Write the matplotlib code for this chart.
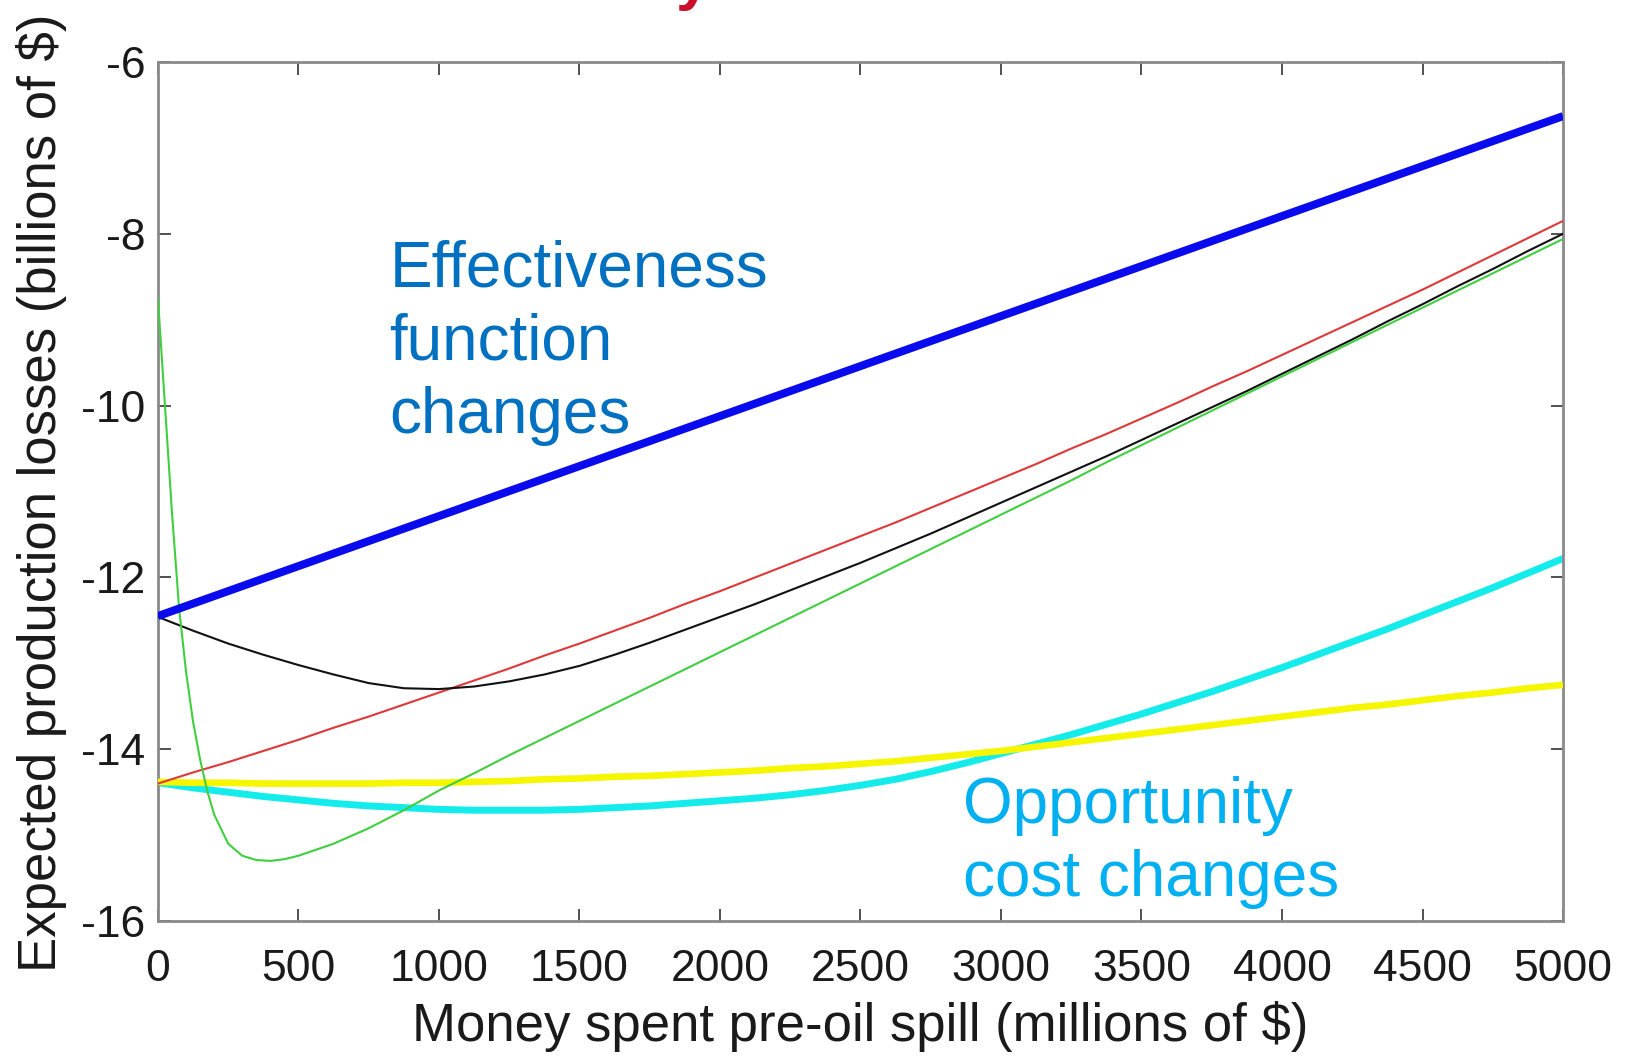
import numpy as np
import matplotlib
matplotlib.use("Agg")
import matplotlib.pyplot as plt
from matplotlib.ticker import FuncFormatter

plt.rcParams['font.family'] = ['Liberation Sans', 'DejaVu Sans']
plt.rcParams['axes.unicode_minus'] = False

# money spent (millions $), every 125
x_main = [0, 125, 250, 375, 500, 625, 750, 875, 1000, 1125, 1250, 1375, 1500,
          1625, 1750, 1875, 2000, 2125, 2250, 2375, 2500, 2625, 2750, 2875,
          3000, 3125, 3250, 3375, 3500, 3625, 3750, 3875, 4000, 4125, 4250,
          4375, 4500, 4625, 4750, 4875, 5000]
# green drops steeply near zero, so it gets extra points there
x_green = [0, 25, 50, 75, 100, 125, 150, 175, 200, 250, 300, 350, 400, 450, 500,
           625, 750, 875, 1000, 1125, 1250, 1375, 1500, 1625, 1750, 1875, 2000,
           2125, 2250, 2375, 2500, 2625, 2750, 2875, 3000, 3125, 3250, 3375, 3500,
           3625, 3750, 3875, 4000, 4125, 4250, 4375, 4500, 4625, 4750, 4875, 5000]
x_ends = [0, 5000]

# expected production losses (billions $)
loss_blue = [-12.45, -6.63]
loss_red = [-14.40, -14.27, -14.15, -14.02, -13.89, -13.75, -13.62, -13.48, -13.34,
            -13.20, -13.06, -12.91, -12.77, -12.62, -12.47, -12.31, -12.16, -12.00,
            -11.84, -11.68, -11.52, -11.36, -11.19, -11.02, -10.85, -10.68, -10.50,
            -10.33, -10.15, -9.97, -9.78, -9.60, -9.41, -9.22, -9.03, -8.84, -8.65,
            -8.45, -8.25, -8.05, -7.85]
loss_black = [-12.46, -12.62, -12.77, -12.90, -13.02, -13.13, -13.23, -13.29, -13.30,
              -13.27, -13.21, -13.13, -13.03, -12.90, -12.76, -12.61, -12.46, -12.31,
              -12.15, -11.99, -11.83, -11.66, -11.49, -11.31, -11.13, -10.95, -10.77,
              -10.59, -10.40, -10.21, -10.02, -9.83, -9.63, -9.43, -9.23, -9.02, -8.82,
              -8.61, -8.41, -8.20, -8.00]
loss_green = [-8.75, -10.00, -11.25, -12.35, -13.10, -13.68, -14.12, -14.48, -14.76,
              -15.10, -15.24, -15.29, -15.30, -15.28, -15.24,
              -15.10, -14.92, -14.71, -14.48, -14.28, -14.07, -13.87, -13.67, -13.47,
              -13.27, -13.07, -12.87, -12.67, -12.47, -12.27, -12.07, -11.87, -11.67,
              -11.47, -11.27, -11.07, -10.87, -10.66, -10.46, -10.26, -10.06, -9.86,
              -9.66, -9.46, -9.26, -9.06, -8.86, -8.66, -8.46, -8.26, -8.06]
loss_cyan = [-14.39, -14.45, -14.50, -14.55, -14.59, -14.63, -14.66, -14.68, -14.70,
             -14.71, -14.71, -14.71, -14.70, -14.68, -14.66, -14.63, -14.60, -14.57,
             -14.53, -14.48, -14.42, -14.35, -14.26, -14.16, -14.05, -13.94, -13.83,
             -13.71, -13.59, -13.46, -13.33, -13.19, -13.05, -12.90, -12.75, -12.60,
             -12.44, -12.28, -12.12, -11.95, -11.78]
loss_yellow = [-14.38, -14.39, -14.39, -14.40, -14.40, -14.40, -14.40, -14.39, -14.39,
               -14.38, -14.37, -14.35, -14.34, -14.32, -14.31, -14.29, -14.27, -14.25,
               -14.22, -14.20, -14.17, -14.14, -14.10, -14.06, -14.02, -13.97, -13.92,
               -13.87, -13.82, -13.77, -13.72, -13.67, -13.62, -13.57, -13.52, -13.48,
               -13.43, -13.38, -13.34, -13.29, -13.25]

xticks = [0, 500, 1000, 1500, 2000, 2500, 3000, 3500, 4000, 4500, 5000]
yticks = [-16, -14, -12, -10, -8, -6]

fig = plt.figure(figsize=(16.3, 10.6), dpi=100)
ax = fig.add_axes([0.0969, 0.1311, 0.862, 0.8104])

ax.plot(x_main, loss_cyan, color='#14ecec', lw=5.0, solid_capstyle='butt', zorder=2)
ax.plot(x_main, loss_yellow, color='#f6f600', lw=4.8, solid_capstyle='butt', zorder=3)
ax.plot(x_main, loss_red, color='#e03838', lw=1.5, zorder=4)
ax.plot(x_main, loss_black, color='#111111', lw=1.5, zorder=5)
ax.plot(x_green, loss_green, color='#3fcf3f', lw=1.5, zorder=6)
ax.plot(x_ends, loss_blue, color='#0a0aee', lw=5.8, solid_capstyle='butt', zorder=7)

ax.set_xlim(0, 5000)
ax.set_ylim(-16, -6)
ax.set_xticks(xticks)
ax.set_yticks(yticks)
ax.yaxis.set_major_formatter(FuncFormatter(lambda v, p: '%d' % v))

for s in ax.spines.values():
    s.set_color('#8a8a8a')
    s.set_linewidth(2.0)
ax.tick_params(direction='in', length=9, width=1.2, color='#333333',
               top=True, right=True, labelsize=32, labelcolor='#1a1a1a')
ax.tick_params(axis='x', pad=20)
ax.tick_params(axis='y', pad=9)

ax.set_xlabel('Money spent pre-oil spill (millions of $)', fontsize=38,
              color='#1a1a1a', va='top')
ax.xaxis.set_label_coords(0.5, -0.093)

fig.text(42 / 1630, 1 - 972 / 1060, 'Expected production losses (billions of $)',
         rotation=90, ha='center', va='bottom', fontsize=38, color='#1a1a1a',
         family=['Liberation Sans Narrow', 'Liberation Sans'])

# multi-line text: baseline refers to the last line
ax.text(0.1647, 0.568, 'Effectiveness\nfunction\nchanges', transform=ax.transAxes,
        fontsize=46, color='#0070c0', ha='left', va='baseline', linespacing=1.28)
ax.text(0.5730, 0.029, 'Opportunity\ncost changes', transform=ax.transAxes,
        fontsize=46, color='#00b0f0', ha='left', va='baseline', linespacing=1.28)

# heading cut off above the figure, only the descender shows
fig.text(0.425, 1.002, 'y', fontsize=45, color='#cc0e2b', ha='center', va='baseline',
         fontweight='bold')

fig.savefig('out.png', dpi=100)
